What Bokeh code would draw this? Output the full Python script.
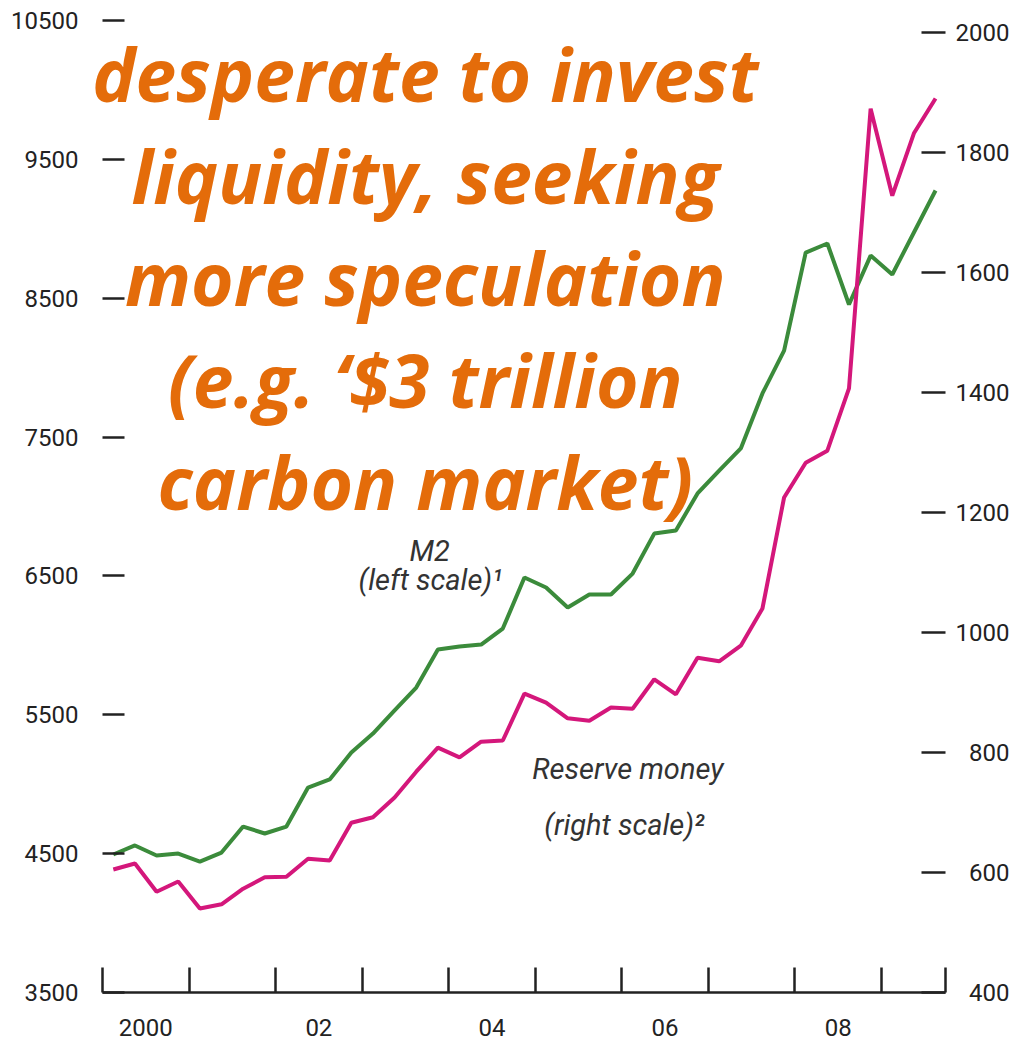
from bokeh.plotting import figure
from bokeh.models import Range1d, LinearAxis, FixedTicker, ColumnDataSource
from bokeh.core.properties import value
from bokeh.embed import file_html
from bokeh.resources import INLINE

# ---------------- data ----------------
years = list(range(2000, 2010))
quarters = [(y, q) for y in years for q in (1, 2, 3, 4)][:39]  # 2000Q1 .. 2009Q3

m2 = [4494, 4559, 4487, 4501, 4443, 4508, 4695, 4645, 4695, 4976,
      5034, 5228, 5365, 5531, 5696, 5970, 5992, 6006, 6121, 6489,
      6417, 6273, 6366, 6366, 6517, 6805, 6827, 7094, 7259, 7418,
      7814, 8123, 8829, 8894, 8455, 8807, 8671, 8973, 9276]

reserve = [605, 615, 568, 585, 540, 547, 573, 592, 593, 623,
           620, 683, 692, 725, 768, 808, 792, 818, 820, 898,
           883, 857, 853, 875, 873, 922, 897, 958, 952, 978,
           1040, 1225, 1283, 1303, 1407, 1873, 1728, 1832, 1890]

left_ticks = [3500, 4500, 5500, 6500, 7500, 8500, 9500, 10500]
right_ticks = [400, 600, 800, 1000, 1200, 1400, 1600, 1800, 2000]
year_labels = {2000: "2000", 2002: "02", 2004: "04", 2006: "06", 2008: "08"}

headline = ["desperate to invest", "liquidity, seeking", "more speculation",
            "(e.g. \u2018$3 trillion", "carbon market)"]

# ---------------- figure ----------------
x = [y + (q - 0.5) / 4 for (y, q) in quarters]
x_end = 2009.74

p = figure(frame_width=843, frame_height=972,
           min_border_left=102, min_border_right=71,
           min_border_top=20, min_border_bottom=56,
           x_range=Range1d(2000, x_end), y_range=Range1d(3500, 10500),
           output_backend="svg", toolbar_location=None,
           x_axis_location=None, y_axis_location=None)
p.outline_line_color = None
p.grid.visible = False
p.background_fill_color = "white"
p.border_fill_color = "white"
p.extra_y_ranges = {"right": Range1d(400, 2020)}

tick_font = "Roboto"
label_color = "#222222"

# left axis
la = LinearAxis(ticker=FixedTicker(ticks=left_ticks))
la.axis_line_color = None
la.major_tick_in = 22
la.major_tick_out = 0
la.major_tick_line_width = 2.5
la.major_tick_line_color = "#222222"
la.minor_tick_line_color = None
la.major_label_standoff = 24
la.major_label_text_font = tick_font
la.major_label_text_font_size = "24px"
la.major_label_text_color = label_color
p.add_layout(la, "left")

# right axis
ra = LinearAxis(y_range_name="right", ticker=FixedTicker(ticks=right_ticks))
ra.axis_line_color = None
ra.major_tick_in = 24
ra.major_tick_out = 0
ra.major_tick_line_width = 2.5
ra.major_tick_line_color = "#222222"
ra.minor_tick_line_color = None
ra.major_label_standoff = 10
ra.major_label_text_font = tick_font
ra.major_label_text_font_size = "24px"
ra.major_label_text_color = label_color
ra.major_label_overrides = {t: ("\u2007" + str(t) if t < 1000 else str(t)) for t in right_ticks}
p.add_layout(ra, "right")

# bottom axis: labels at mid-year, tick marks at year boundaries
mid_years = [y + 0.5 for y in year_labels]
ba = LinearAxis(ticker=FixedTicker(ticks=mid_years, minor_ticks=years + [x_end]))
ba.axis_line_width = 2.5
ba.axis_line_color = "#222222"
ba.major_tick_line_color = None
ba.minor_tick_in = 25
ba.minor_tick_out = 0
ba.minor_tick_line_width = 2.5
ba.minor_tick_line_color = "#222222"
ba.major_label_standoff = 20
ba.major_label_text_font = tick_font
ba.major_label_text_font_size = "24px"
ba.major_label_text_color = label_color
ba.major_label_overrides = {y + 0.5: s for y, s in year_labels.items()}
p.add_layout(ba, "below")

# lines
p.line(x, m2, line_color="#3b8b3b", line_width=4)
p.line(x, reserve, line_color="#d4177b", line_width=4, y_range_name="right")

# series annotations
ann = ColumnDataSource(dict(
    x=[2003.78, 2003.79, 2006.07, 2006.03],
    y=[6680, 6470, 5110, 4705],
    t=["M2", "(left scale)\u00b9", "Reserve money", "(right scale)\u00b2"]))
p.text(x="x", y="y", text="t", source=ann, text_align="center",
       text_baseline="alphabetic", text_font=value(tick_font),
       text_font_style="italic", text_font_size="29px", text_color="#333333")

# headline overlay
hy = [10120, 9386, 8651, 7916, 7182]
hs = ColumnDataSource(dict(x=[2003.73] * len(headline), y=hy, t=headline))
p.text(x="x", y="y", text="t", source=hs, text_align="center",
       text_baseline="alphabetic", text_font=value("Open Sans"),
       text_font_style="bold italic", text_font_size="73px",
       text_color="#e46c0a", level="overlay")

open("out.html", "w").write(file_html(p, INLINE))
